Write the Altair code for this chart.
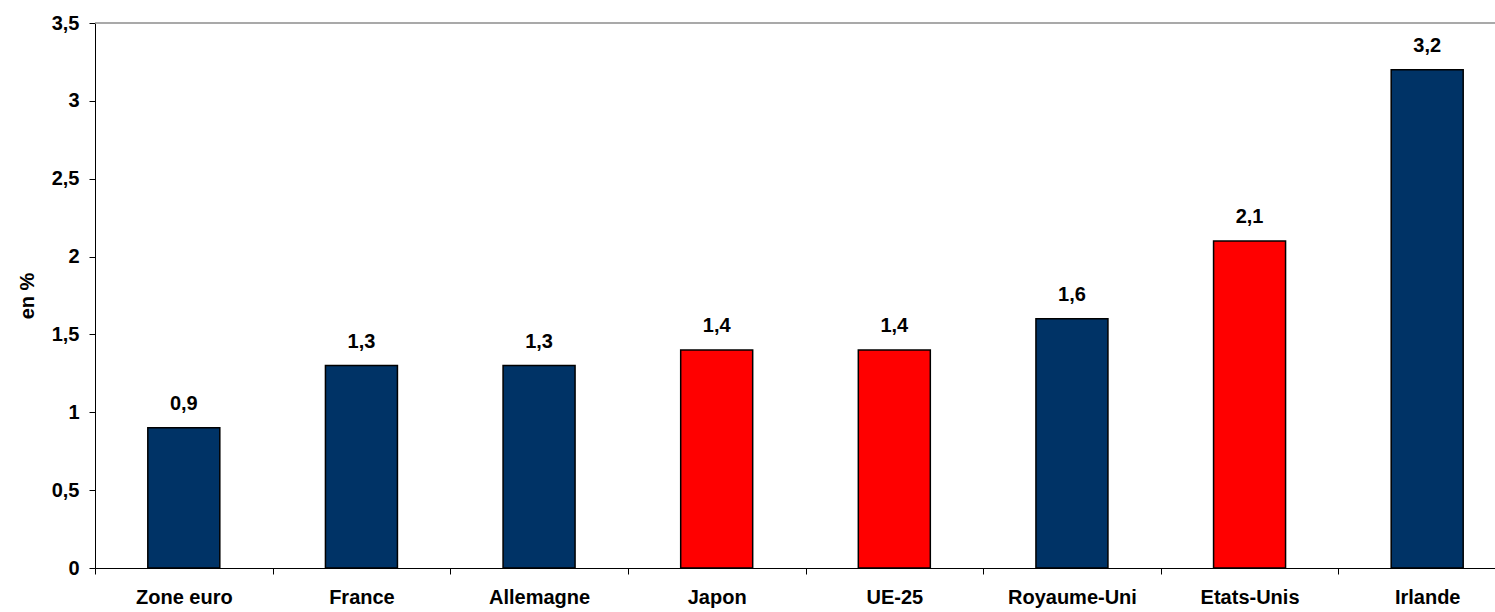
import altair as alt
import pandas as pd

# Categories, values (en %) and bar colours
pays = ["Zone euro", "France", "Allemagne", "Japon", "UE-25", "Royaume-Uni", "Etats-Unis", "Irlande"]
valeurs = [0.9, 1.3, 1.3, 1.4, 1.4, 1.6, 2.1, 3.2]
couleurs = ["#003366", "#003366", "#003366", "#FF0000", "#FF0000", "#003366", "#FF0000", "#003366"]
graduations = [0, 0.5, 1, 1.5, 2, 2.5, 3, 3.5]

df = pd.DataFrame({"pays": pays, "valeur": valeurs, "couleur": couleurs})

FONT = "Liberation Sans"
FS = 20
PLOT_W = 1400
BAND_RANGE = 1421
PLOT_H = 545

x_enc = alt.X(
    "pays:N",
    sort=pays,
    scale=alt.Scale(range=[0, BAND_RANGE], paddingInner=0, paddingOuter=0),
    axis=alt.Axis(
        title=None,
        labelAngle=0,
        tickBand="extent",
        labelFont=FONT,
        labelFontSize=FS,
        labelFontWeight="bold",
        labelColor="black",
        labelPadding=13,
        tickSize=6,
        tickColor="black",
        domainColor="black",
        grid=False,
    ),
)

y_enc = alt.Y(
    "valeur:Q",
    scale=alt.Scale(domain=[0, 3.5], nice=False),
    axis=alt.Axis(
        title="en %",
        values=graduations,
        labelExpr="replace(format(datum.value, '~g'), '.', ',')",
        labelFont=FONT,
        labelFontSize=FS,
        labelFontWeight="bold",
        labelColor="black",
        labelPadding=10,
        tickSize=6,
        tickColor="black",
        domainColor="black",
        grid=False,
        titleFont=FONT,
        titleFontSize=FS,
        titleFontWeight="bold",
        titleColor="black",
        titlePadding=14,
    ),
)

base = alt.Chart(df).encode(x=x_enc, y=y_enc)

bars = base.mark_bar(size=72, stroke="black", strokeWidth=1.5).encode(
    color=alt.Color("couleur:N", scale=None)
)

etiquettes = base.transform_calculate(
    texte="replace(format(datum.valeur, '.1f'), '.', ',')"
).mark_text(
    font=FONT, fontSize=FS, fontWeight="bold", color="black",
    baseline="alphabetic", dy=-18,
).encode(text="texte:N")

# Grey frame line along the top of the plot area
cadre = alt.Chart(pd.DataFrame({"k": [0]})).mark_rule(
    color="#8c8c8c", strokeWidth=1.5
).encode(x=alt.value(0), x2=alt.value(BAND_RANGE), y=alt.value(0))

chart = (
    alt.layer(cadre, bars, etiquettes)
    .properties(
        width=PLOT_W,
        height=PLOT_H,
        autosize=alt.AutoSizeParams(type="none"),
        padding={"left": 95, "top": 23, "right": 0, "bottom": 44},
        background="white",
    )
    .configure_view(stroke=None)
)

chart.save("out.html", embed_options={"renderer": "svg", "actions": False})
